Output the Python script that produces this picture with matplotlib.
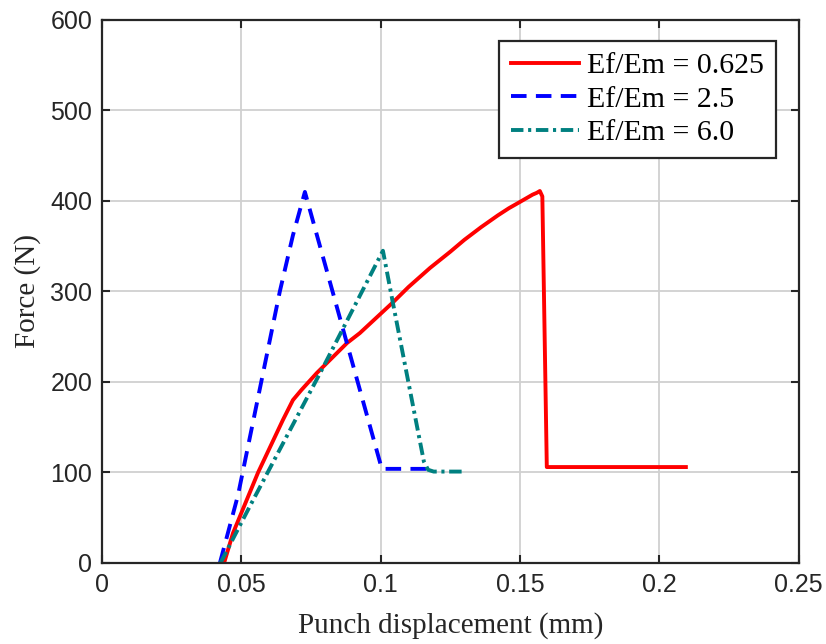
import matplotlib
matplotlib.use("Agg")
import matplotlib.pyplot as plt

# force-displacement curves for three stiffness ratios
disp_0625 = [0.0438, 0.0470, 0.0560, 0.0649, 0.0685, 0.0715, 0.0771, 0.0879, 0.0925,
             0.1044, 0.1100, 0.1177, 0.1250, 0.1300, 0.1360, 0.1420, 0.1460, 0.1500,
             0.1545, 0.1560, 0.1571, 0.1580, 0.1596, 0.2095]
force_0625 = [0, 33, 100, 158, 180, 191, 210, 243, 254,
              288, 305, 326, 344, 357, 371, 384, 392, 399,
              407, 409, 411, 405, 106, 106]

disp_25 = [0.0423, 0.0488, 0.0556, 0.0638, 0.0685, 0.0728, 0.0829, 0.1004, 0.1166]
force_25 = [0, 75, 177, 300, 362, 410, 298, 104, 104]

disp_60 = [0.0425, 0.0531, 0.0793, 0.1008, 0.1044, 0.1155, 0.1170, 0.1190, 0.1295]
force_60 = [0, 63, 216, 345, 287, 112, 103, 101, 101]

labels = ["Ef/Em = 0.625", "Ef/Em = 2.5", "Ef/Em = 6.0"]

fig = plt.figure(figsize=(8.26, 6.44), dpi=100)
ax = fig.add_axes([0.1235, 0.1258, 0.8435, 0.8432])

ax.plot(disp_0625, force_0625, color="#ff0000", lw=2.8, label=labels[0])
ax.plot(disp_25, force_25, color="#0000ff", lw=2.8, ls=(0, (4.0, 2.4)), label=labels[1])
ax.plot(disp_60, force_60, color="#008080", lw=2.8, ls=(0, (3.2, 1.2, 0.8, 1.2)), label=labels[2])

ax.set_xlim(0, 0.25)
ax.set_ylim(0, 600)
ax.set_xticks([0, 0.05, 0.1, 0.15, 0.2, 0.25])
ax.set_xticklabels(["0", "0.05", "0.1", "0.15", "0.2", "0.25"])
ax.set_yticks(range(0, 601, 100))
ax.grid(True, color="#d0d0d0", lw=1.3)
ax.set_axisbelow(True)

ax.tick_params(direction="in", top=True, right=True, length=6, width=1.5,
               labelsize=18, pad=7, colors="#262626")
for lab in ax.get_xticklabels() + ax.get_yticklabels():
    lab.set_family("Liberation Sans")
for sp in ax.spines.values():
    sp.set_linewidth(1.6)
    sp.set_color("#262626")

ax.set_xlabel("Punch displacement (mm)", family="Liberation Serif", fontsize=21,
              color="#262626", labelpad=11)
ax.set_ylabel("Force (N)", family="Liberation Serif", fontsize=21,
              color="#262626", labelpad=7)

leg = ax.legend(loc="upper right", bbox_to_anchor=(0.967, 0.962), fancybox=False,
                edgecolor="#262626", framealpha=1, handlelength=2.3, handletextpad=0.25,
                borderpad=0.4, labelspacing=0.22, borderaxespad=0,
                prop={"family": "Liberation Serif", "size": 21.5})
leg.get_frame().set_linewidth(1.6)

fig.savefig("out.png", dpi=100)
